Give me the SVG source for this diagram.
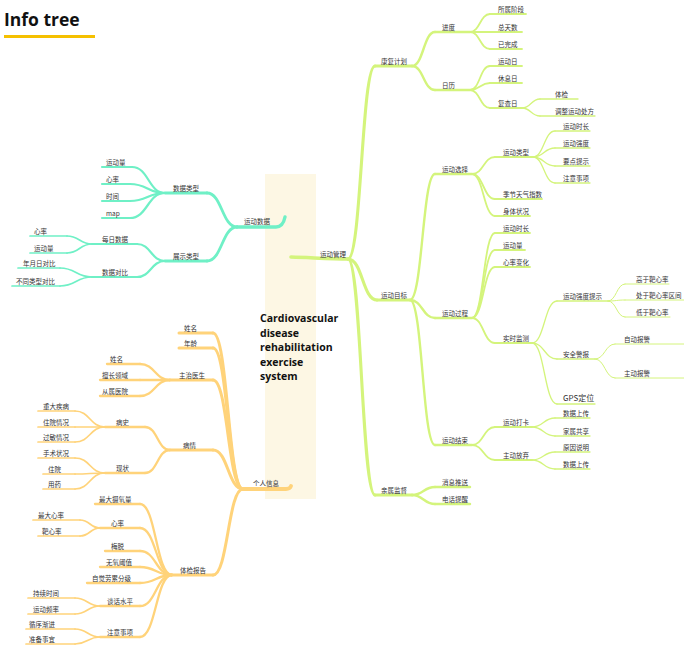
<svg xmlns="http://www.w3.org/2000/svg" width="684" height="670" viewBox="0 0 684 670">
<style>
.t{font-family:"Noto Sans CJK SC","Noto Sans",sans-serif;font-size:6.5px;fill:#333}
.t.big{font-size:8px}
.g,.c,.o{fill:none;stroke-linecap:round}
.g{stroke:#d4f47c}
.c{stroke:#6ff0c6}
.o{stroke:#ffd37a}
.w0{stroke-width:3.6}
.w1{stroke-width:3.1}
.w2{stroke-width:2.4}
.w3{stroke-width:1.8}
.w4{stroke-width:1.3}
.w5{stroke-width:1}
.title{font-family:"Open Sans","Liberation Sans",sans-serif;font-weight:700;fill:#111}
</style>
<rect width="684" height="670" fill="#fff"/>
<g id="header">
<text class="title" x="4" y="26" font-size="17.5">Info tree</text>
<rect x="4" y="35" width="91" height="3" fill="#f5c000"/>
</g>
<g id="root">
<rect x="265" y="174" width="51" height="325" fill="#fdf7e4"/>
<text class="title" font-size="10.5"><tspan x="260" y="322">Cardiovascular</tspan><tspan x="260" y="336.5">disease</tspan><tspan x="260" y="351">rehabilitation</tspan><tspan x="260" y="365.5">exercise</tspan><tspan x="260" y="380">system</tspan></text>
</g>
<g id="connectors">
<g class="g w1">
<path d="M348 259C361.5 259 361.5 66 375 66"/>
<path d="M348 259C362.5 259 362.5 300 377 300"/>
<path d="M348 259C361.5 259 361.5 495 375 495"/>
</g>
<g class="g w2">
<path d="M412 66C423.5 66 423.5 32 435 32"/>
<path d="M412 66C423.5 66 423.5 90 435 90"/>
<path d="M410 300C422.5 300 422.5 174 435 174"/>
<path d="M410 300C422.5 300 422.5 318 435 318"/>
<path d="M410 300C422.5 300 422.5 445 435 445"/>
<path d="M412 495C423.5 495 423.5 487 435 487"/>
<path d="M412 495C423.5 495 423.5 504 435 504"/>
</g>
<g class="g w3">
<path d="M470 32C480 32 480 14 490 14"/>
<path d="M470 32H490"/>
<path d="M470 32C480 32 480 49 490 49"/>
<path d="M470 90C480 90 480 66 490 66"/>
<path d="M470 90C480 90 480 83 490 83"/>
<path d="M470 90C480 90 480 108 490 108"/>
<path d="M472 174C483.5 174 483.5 157 495 157"/>
<path d="M472 174C483.5 174 483.5 199 495 199"/>
<path d="M472 174C483.5 174 483.5 216 495 216"/>
<path d="M472 318C483.5 318 483.5 233 495 233"/>
<path d="M472 318C483.5 318 483.5 250 495 250"/>
<path d="M472 318C483.5 318 483.5 267 495 267"/>
<path d="M472 318C483.5 318 483.5 343 495 343"/>
<path d="M472 445C483.5 445 483.5 427 495 427"/>
<path d="M472 445C483.5 445 483.5 460 495 460"/>
</g>
<g class="g w4">
<path d="M522 108C531 108 531 99 540 99"/>
<path d="M522 108C531 108 531 116 540 116"/>
<path d="M533 157C544 157 544 131 555 131"/>
<path d="M533 157C544 157 544 148 555 148"/>
<path d="M533 157C544 157 544 166 555 166"/>
<path d="M533 157C544 157 544 183 555 183"/>
<path d="M532 343C544.5 343 544.5 301 557 301"/>
<path d="M532 343C544.5 343 544.5 359 557 359"/>
<path d="M532 343C544.5 343 544.5 404 557 404"/>
<path d="M532 427C543.5 427 543.5 418 555 418"/>
<path d="M532 427C543.5 427 543.5 436 555 436"/>
<path d="M532 460C543.5 460 543.5 452 555 452"/>
<path d="M532 460C543.5 460 543.5 469 555 469"/>
</g>
<g class="g w5">
<path d="M608 301C616.5 301 616.5 284 625 284"/>
<path d="M608 301C616.5 301 616.5 300 625 300"/>
<path d="M608 301C616.5 301 616.5 317 625 317"/>
<path d="M595 359C605 359 605 344 615 344"/>
<path d="M595 359C605 359 605 378 615 378"/>
</g>
<g class="c" stroke-width="2.8">
<path d="M237 227C222 227 222 193 207 193"/>
<path d="M237 227C222 227 222 261 207 261"/>
</g>
<g class="c" stroke-width="2.2">
<path d="M165 193C148.5 193 148.5 167 132 167"/>
<path d="M165 193C147.5 193 147.5 184 130 184"/>
<path d="M165 193C147.5 193 147.5 201 130 201"/>
<path d="M165 193C147.5 193 147.5 218 130 218"/>
<path d="M165 261C151 261 151 244 137 244"/>
<path d="M165 261C151 261 151 277 137 277"/>
</g>
<g class="c" stroke-width="1.7">
<path d="M92 244C79.5 244 79.5 236 67 236"/>
<path d="M92 244C79.5 244 79.5 253 67 253"/>
<path d="M92 277C76 277 76 268 60 268"/>
<path d="M92 277C76 277 76 286 60 286"/>
</g>
<g class="o" stroke-width="3">
<path d="M243 489C228 489 228 333 213 333"/>
<path d="M243 489C228 489 228 348 213 348"/>
<path d="M243 489C228 489 228 380 213 380"/>
<path d="M243 489C228 489 228 450 213 450"/>
<path d="M243 489C228 489 228 575 213 575"/>
</g>
<g class="o" stroke-width="2.3">
<path d="M170 380C155 380 155 364 140 364"/>
<path d="M170 380H140"/>
<path d="M170 380C155 380 155 396 140 396"/>
<path d="M170 450C157.5 450 157.5 427 145 427"/>
<path d="M170 450C157.5 450 157.5 473 145 473"/>
<path d="M172 575C156 575 156 504 140 504"/>
<path d="M172 575C156 575 156 528 140 528"/>
<path d="M172 575C156 575 156 551 140 551"/>
<path d="M172 575C156 575 156 567 140 567"/>
<path d="M172 575C156 575 156 583 140 583"/>
<path d="M172 575C156 575 156 606 140 606"/>
<path d="M172 575C156 575 156 637 140 637"/>
</g>
<g class="o" stroke-width="1.7">
<path d="M105 427C90 427 90 411 75 411"/>
<path d="M105 427H75"/>
<path d="M105 427C90 427 90 442 75 442"/>
<path d="M105 473C90 473 90 458 75 458"/>
<path d="M105 473C90 473 90 474 75 474"/>
<path d="M105 473C90 473 90 489 75 489"/>
<path d="M100 528C90 528 90 520 80 520"/>
<path d="M100 528C90 528 90 536 80 536"/>
<path d="M100 606C87.5 606 87.5 598 75 598"/>
<path d="M100 606C87.5 606 87.5 614 75 614"/>
<path d="M100 637C87.5 637 87.5 629 75 629"/>
<path d="M100 637C87.5 637 87.5 644 75 644"/>
</g>
</g>
<g id="nodes">
<g id="n-yundongguanli"><path class="g w0" d="M291 257C310 257.5 330 259 348 259"/><text class="t" x="320" y="256.5">运动管理</text></g>
<g id="n-kangfujihua"><path class="g w1" d="M375 66H412"/><text class="t" x="381" y="63.5">康复计划</text></g>
<g id="n-yundongmubiao"><path class="g w1" d="M377 300H410"/><text class="t" x="381" y="297.5">运动目标</text></g>
<g id="n-qinshujiandu"><path class="g w1" d="M375 495H412"/><text class="t" x="381" y="492.5">亲属监督</text></g>
<g id="n-jindu"><path class="g w2" d="M435 32H470"/><text class="t" x="442" y="29.5">进度</text></g>
<g id="n-rili"><path class="g w2" d="M435 90H470"/><text class="t" x="442" y="87.5">日历</text></g>
<g id="n-yundongxuanze"><path class="g w2" d="M435 174H472"/><text class="t" x="442" y="171.5">运动选择</text></g>
<g id="n-yundongguocheng"><path class="g w2" d="M435 318H472"/><text class="t" x="442" y="315.5">运动过程</text></g>
<g id="n-yundongjieshu"><path class="g w2" d="M435 445H472"/><text class="t" x="442" y="442.5">运动结束</text></g>
<g id="n-xiaoxituisong"><path class="g w2" d="M435 487H470"/><text class="t" x="442" y="484.5">消息推送</text></g>
<g id="n-dianhuatixing"><path class="g w2" d="M435 504H470"/><text class="t" x="442" y="501.5">电话提醒</text></g>
<g id="n-suoshujieduan"><path class="g w3" d="M490 14H526"/><text class="t" x="498" y="11.5">所属阶段</text></g>
<g id="n-zongtianshu"><path class="g w3" d="M490 32H522"/><text class="t" x="498" y="29.5">总天数</text></g>
<g id="n-yiwancheng"><path class="g w3" d="M490 49H522"/><text class="t" x="498" y="46.5">已完成</text></g>
<g id="n-yundongri"><path class="g w3" d="M490 66H522"/><text class="t" x="498" y="63.5">运动日</text></g>
<g id="n-xiuxiri"><path class="g w3" d="M490 83H522"/><text class="t" x="498" y="80.5">休息日</text></g>
<g id="n-fuchari"><path class="g w3" d="M490 108H522"/><text class="t" x="498" y="105.5">复查日</text></g>
<g id="n-yundongleixing"><path class="g w3" d="M495 157H533"/><text class="t" x="503" y="154.5">运动类型</text></g>
<g id="n-jijietianqi"><path class="g w3" d="M495 199H542"/><text class="t" x="503" y="196.5">季节天气指数</text></g>
<g id="n-shentizhuangkuang"><path class="g w3" d="M495 216H530"/><text class="t" x="503" y="213.5">身体状况</text></g>
<g id="n-yundongshichang2"><path class="g w3" d="M495 233H530"/><text class="t" x="503" y="230.5">运动时长</text></g>
<g id="n-yundongliang2"><path class="g w3" d="M495 250H525"/><text class="t" x="503" y="247.5">运动量</text></g>
<g id="n-xinlvbianhua"><path class="g w3" d="M495 267H530"/><text class="t" x="503" y="264.5">心率变化</text></g>
<g id="n-shishijiance"><path class="g w3" d="M495 343H532"/><text class="t" x="503" y="340.5">实时监测</text></g>
<g id="n-yundongdaka"><path class="g w3" d="M495 427H532"/><text class="t" x="503" y="424.5">运动打卡</text></g>
<g id="n-zhudongfangqi"><path class="g w3" d="M495 460H532"/><text class="t" x="503" y="457.5">主动放弃</text></g>
<g id="n-tijian"><path class="g w4" d="M540 99H578"/><text class="t" x="555" y="96.5">体检</text></g>
<g id="n-tiaozheng"><path class="g w4" d="M540 116H595"/><text class="t" x="555" y="113.5">调整运动处方</text></g>
<g id="n-yundongshichang1"><path class="g w4" d="M555 131H590"/><text class="t" x="563" y="128.5">运动时长</text></g>
<g id="n-yundongqiangdu"><path class="g w4" d="M555 148H590"/><text class="t" x="563" y="145.5">运动强度</text></g>
<g id="n-yaodiantishi"><path class="g w4" d="M555 166H590"/><text class="t" x="563" y="163.5">要点提示</text></g>
<g id="n-zhuyishixiang1"><path class="g w4" d="M555 183H590"/><text class="t" x="563" y="180.5">注意事项</text></g>
<g id="n-qiangdutishi"><path class="g w4" d="M557 301H608"/><text class="t" x="563" y="298.5">运动强度提示</text></g>
<g id="n-anquanjingbao"><path class="g w4" d="M557 359H595"/><text class="t" x="563" y="356.5">安全警报</text></g>
<g id="n-gps"><path class="g w4" d="M557 404H595"/><text class="t big" x="563" y="401">GPS定位</text></g>
<g id="n-shujushangchuan1"><path class="g w4" d="M555 418H590"/><text class="t" x="563" y="415.5">数据上传</text></g>
<g id="n-jiashugongxiang"><path class="g w4" d="M555 436H590"/><text class="t" x="563" y="433.5">家属共享</text></g>
<g id="n-yuanyinshuoming"><path class="g w4" d="M555 452H590"/><text class="t" x="563" y="449.5">原因说明</text></g>
<g id="n-shujushangchuan2"><path class="g w4" d="M555 469H590"/><text class="t" x="563" y="466.5">数据上传</text></g>
<g id="n-gaoyu"><path class="g w5" d="M625 284H669"/><text class="t" x="636" y="281.5">高于靶心率</text></g>
<g id="n-chuyu"><path class="g w5" d="M625 300H684"/><text class="t" x="636" y="297.5">处于靶心率区间</text></g>
<g id="n-diyu"><path class="g w5" d="M625 317H670"/><text class="t" x="636" y="314.5">低于靶心率</text></g>
<g id="n-zidongbaojing"><path class="g w5" d="M615 344H684"/><text class="t" x="624" y="341.5">自动报警</text></g>
<g id="n-zhudongbaojing"><path class="g w5" d="M615 378H684"/><text class="t" x="624" y="375.5">主动报警</text></g>

<g id="n-yundongshuju"><path class="c" stroke-width="3.4" d="M237 227H276Q283 227 285 217"/><text class="t" x="244" y="224">运动数据</text></g>
<g id="n-shujuleixing"><path class="c" stroke-width="2.8" d="M165 193H207"/><text class="t" x="173" y="190.5">数据类型</text></g>
<g id="n-zhanshileixing"><path class="c" stroke-width="2.8" d="M165 261H207"/><text class="t" x="173" y="258.5">展示类型</text></g>
<g id="n-c-yundongliang"><path class="c" stroke-width="2.2" d="M102 167H132"/><text class="t" x="106" y="164.5">运动量</text></g>
<g id="n-c-xinlv"><path class="c" stroke-width="2.2" d="M102 184H130"/><text class="t" x="106" y="181.5">心率</text></g>
<g id="n-c-shijian"><path class="c" stroke-width="2.2" d="M102 201H130"/><text class="t" x="106" y="198.5">时间</text></g>
<g id="n-c-map"><path class="c" stroke-width="2.2" d="M102 218H130"/><text class="t" x="106" y="215.5">map</text></g>
<g id="n-meirishuju"><path class="c" stroke-width="2.2" d="M92 244H137"/><text class="t" x="102" y="241.5">每日数据</text></g>
<g id="n-shujuduibi"><path class="c" stroke-width="2.2" d="M92 277H137"/><text class="t" x="102" y="274.5">数据对比</text></g>
<g id="n-c-xinlv2"><path class="c" stroke-width="1.7" d="M30 236H67"/><text class="t" x="34" y="233.5">心率</text></g>
<g id="n-c-yundongliang2"><path class="c" stroke-width="1.7" d="M30 253H67"/><text class="t" x="34" y="250.5">运动量</text></g>
<g id="n-nianyueri"><path class="c" stroke-width="1.7" d="M18 268H60"/><text class="t" x="23" y="265.5">年月日对比</text></g>
<g id="n-butongleixing"><path class="c" stroke-width="1.7" d="M12 286H60"/><text class="t" x="16" y="283.5">不同类型对比</text></g>

<g id="n-gerenxinxi"><path class="o" stroke-width="3.8" d="M243 489H286Q290 489 291 486"/><text class="t" x="253" y="486">个人信息</text></g>
<g id="n-xingming"><path class="o" stroke-width="3" d="M179 333H213"/><text class="t" x="184" y="330.5">姓名</text></g>
<g id="n-nianling"><path class="o" stroke-width="3" d="M179 348H213"/><text class="t" x="184" y="345.5">年龄</text></g>
<g id="n-zhuzhiyisheng"><path class="o" stroke-width="3" d="M170 380H213"/><text class="t" x="179" y="377.5">主治医生</text></g>
<g id="n-bingqing"><path class="o" stroke-width="3" d="M170 450H213"/><text class="t" x="183" y="447.5">病情</text></g>
<g id="n-tijianbaogao"><path class="o" stroke-width="3" d="M172 575H213"/><text class="t" x="180" y="572.5">体检报告</text></g>
<g id="n-ys-xingming"><path class="o" stroke-width="2.3" d="M107 364H140"/><text class="t" x="110" y="361.5">姓名</text></g>
<g id="n-shanchang"><path class="o" stroke-width="2.3" d="M100 380H140"/><text class="t" x="102" y="377.5">擅长领域</text></g>
<g id="n-congshu"><path class="o" stroke-width="2.3" d="M100 396H140"/><text class="t" x="102" y="393.5">从属医院</text></g>
<g id="n-bingshi"><path class="o" stroke-width="2.3" d="M105 427H145"/><text class="t" x="116" y="424.5">病史</text></g>
<g id="n-xianzhuang"><path class="o" stroke-width="2.3" d="M105 473H145"/><text class="t" x="116" y="470.5">现状</text></g>
<g id="n-sheyangliang"><path class="o" stroke-width="2.3" d="M95 504H140"/><text class="t" x="99" y="501.5">最大摄氧量</text></g>
<g id="n-o-xinlv"><path class="o" stroke-width="2.3" d="M100 528H140"/><text class="t" x="111" y="525.5">心率</text></g>
<g id="n-meituo"><path class="o" stroke-width="2.3" d="M105 551H140"/><text class="t" x="111" y="548.5">梅脱</text></g>
<g id="n-wuyang"><path class="o" stroke-width="2.3" d="M100 567H140"/><text class="t" x="106" y="564.5">无氧阈值</text></g>
<g id="n-zijue"><path class="o" stroke-width="2.3" d="M87 583H140"/><text class="t" x="92" y="580.5">自觉劳累分级</text></g>
<g id="n-tanhua"><path class="o" stroke-width="2.3" d="M100 606H140"/><text class="t" x="107" y="603.5">谈话水平</text></g>
<g id="n-o-zhuyi"><path class="o" stroke-width="2.3" d="M100 637H140"/><text class="t" x="107" y="634.5">注意事项</text></g>
<g id="n-zhongda"><path class="o" stroke-width="1.7" d="M38 411H75"/><text class="t" x="43" y="408.5">重大疾病</text></g>
<g id="n-zhuyuanqk"><path class="o" stroke-width="1.7" d="M38 427H75"/><text class="t" x="43" y="424.5">住院情况</text></g>
<g id="n-guomin"><path class="o" stroke-width="1.7" d="M38 442H75"/><text class="t" x="43" y="439.5">过敏情况</text></g>
<g id="n-shoushu"><path class="o" stroke-width="1.7" d="M38 458H75"/><text class="t" x="43" y="455.5">手术状况</text></g>
<g id="n-zhuyuan"><path class="o" stroke-width="1.7" d="M43 474H75"/><text class="t" x="48" y="471.5">住院</text></g>
<g id="n-yongyao"><path class="o" stroke-width="1.7" d="M43 489H75"/><text class="t" x="48" y="486.5">用药</text></g>
<g id="n-zuidaxinlv"><path class="o" stroke-width="1.7" d="M33 520H80"/><text class="t" x="38" y="517.5">最大心率</text></g>
<g id="n-baxinlv"><path class="o" stroke-width="1.7" d="M38 536H80"/><text class="t" x="42" y="533.5">靶心率</text></g>
<g id="n-chixu"><path class="o" stroke-width="1.7" d="M28 598H75"/><text class="t" x="33" y="595.5">持续时间</text></g>
<g id="n-pinlv"><path class="o" stroke-width="1.7" d="M28 614H75"/><text class="t" x="33" y="611.5">运动频率</text></g>
<g id="n-xunxu"><path class="o" stroke-width="1.7" d="M26 629H75"/><text class="t" x="29" y="626.5">循序渐进</text></g>
<g id="n-zhunbei"><path class="o" stroke-width="1.7" d="M26 644H75"/><text class="t" x="29" y="641.5">准备事宜</text></g>
</g>
</svg>
